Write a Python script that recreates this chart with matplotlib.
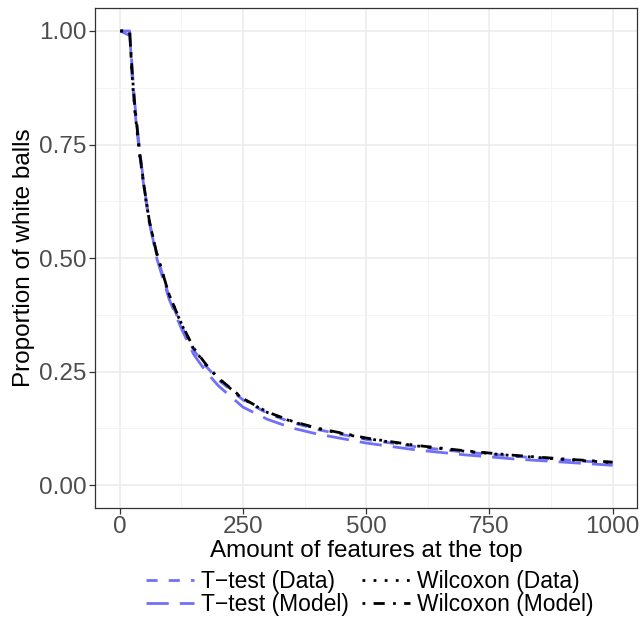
import matplotlib
matplotlib.use("Agg")
import matplotlib.pyplot as plt
from matplotlib.ticker import MultipleLocator, FormatStrFormatter

plt.rcParams["font.family"] = ["Liberation Sans", "DejaVu Sans"]

# amount of features at the top
x = [1, 20, 25, 30, 40, 50, 60, 75, 100, 125, 150, 175, 200, 250, 300, 350,
     400, 500, 600, 700, 800, 900, 1000]

ttest_data = [1.0, 1.0, 0.9, 0.83, 0.73, 0.648, 0.578, 0.507, 0.415, 0.35, 0.297,
              0.262, 0.232, 0.188, 0.158, 0.138, 0.123, 0.101, 0.085, 0.073, 0.064,
              0.056, 0.049]
ttest_model = [1.0, 0.99, 0.92, 0.845, 0.74, 0.652, 0.58, 0.5, 0.41, 0.345, 0.288,
               0.25, 0.219, 0.172, 0.145, 0.126, 0.113, 0.093, 0.078, 0.067, 0.058,
               0.051, 0.044]
wilcox_data = [1.0, 1.0, 0.9, 0.83, 0.73, 0.65, 0.58, 0.51, 0.42, 0.355, 0.30,
               0.265, 0.235, 0.19, 0.16, 0.14, 0.125, 0.103, 0.087, 0.075, 0.065,
               0.057, 0.05]
wilcox_model = [1.0, 1.0, 0.91, 0.84, 0.735, 0.652, 0.582, 0.51, 0.42, 0.356, 0.302,
                0.266, 0.236, 0.191, 0.161, 0.141, 0.126, 0.104, 0.088, 0.076, 0.066,
                0.058, 0.051]

BLUE = "#7070F8"

fig = plt.figure(figsize=(6.43, 6.35), dpi=100)
ax = fig.add_axes([0.148, 0.2, 0.843, 0.787])

ax.plot(x, ttest_data, color=BLUE, lw=2, linestyle=(0, (4, 4)), label="T\u2212test (Data)")
ax.plot(x, ttest_model, color=BLUE, lw=2, linestyle=(0, (8, 4)), label="T\u2212test (Model)")
ax.plot(x, wilcox_data, color="black", lw=2, linestyle=(0, (1, 3)), label="Wilcoxon (Data)")
ax.plot(x, wilcox_model, color="black", lw=2, linestyle=(0, (1, 3, 4, 3)), label="Wilcoxon (Model)")

ax.set_xlim(-50, 1050)
ax.set_ylim(-0.05, 1.05)
ax.xaxis.set_major_locator(MultipleLocator(250))
ax.xaxis.set_minor_locator(MultipleLocator(125))
ax.yaxis.set_major_locator(MultipleLocator(0.25))
ax.yaxis.set_minor_locator(MultipleLocator(0.125))
ax.yaxis.set_major_formatter(FormatStrFormatter("%.2f"))

ax.grid(True, which="major", color="#EBEBEB", lw=1.1)
ax.grid(True, which="minor", color="#F3F3F3", lw=0.6)
ax.set_axisbelow(True)
for s in ax.spines.values():
    s.set_color("#333333")
    s.set_linewidth(0.9)
ax.tick_params(which="major", colors="#333333", length=4, width=0.9, labelsize=17.5,
               labelcolor="#4D4D4D", pad=2)
ax.tick_params(which="minor", length=0)

ax.set_xlabel("Amount of features at the top", fontsize=17.5, labelpad=1)
ax.set_ylabel("Proportion of white balls", fontsize=17.5, labelpad=3)

fig.legend(loc="center", bbox_to_anchor=(0.575, 0.066), ncol=2, frameon=False,
           fontsize=16.5, handlelength=2.1, handletextpad=0.3, columnspacing=0.6,
           labelspacing=0.0)

fig.savefig("out.png", dpi=100)
